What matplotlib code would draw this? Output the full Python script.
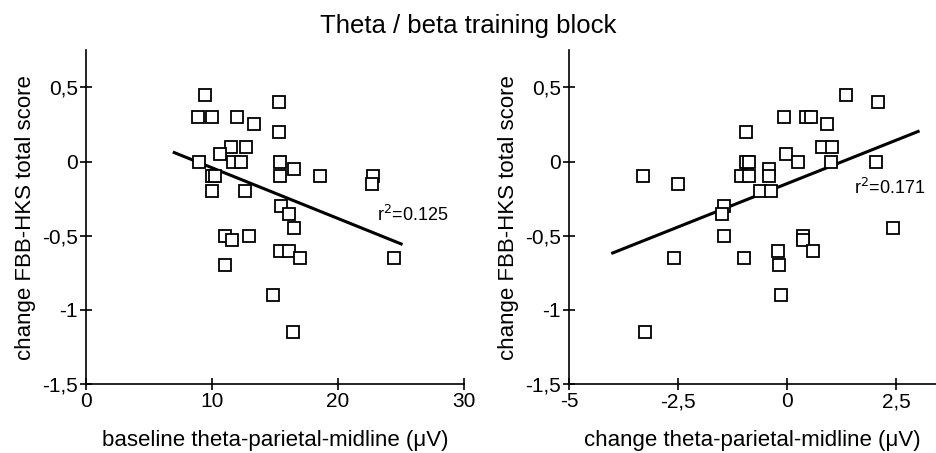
import numpy as np
import matplotlib.pyplot as plt
from matplotlib.ticker import FuncFormatter

plt.rcParams['font.family'] = ['Liberation Sans', 'DejaVu Sans']

# baseline theta (parietal midline) vs change in FBB-HKS score
base_x = [9.4, 8.9, 10.0, 12.0, 13.3, 15.3, 15.3, 11.5, 12.7, 10.6,
          9.0, 11.7, 12.3, 15.4, 16.5, 10.0, 10.2, 15.4, 18.6, 22.8,
          22.7, 10.0, 12.6, 15.5, 16.1, 16.5, 11.0, 11.6, 12.9, 15.4,
          16.1, 17.0, 24.4, 11.0, 14.8, 16.4]
base_y = [0.45, 0.3, 0.3, 0.3, 0.25, 0.4, 0.2, 0.1, 0.1, 0.05,
          0.0, 0.0, 0.0, 0.0, -0.05, -0.1, -0.1, -0.1, -0.1, -0.1,
          -0.15, -0.2, -0.2, -0.3, -0.35, -0.45, -0.5, -0.53, -0.5, -0.6,
          -0.6, -0.65, -0.65, -0.7, -0.9, -1.15]

# change in theta vs change in FBB-HKS score
chg_x = [-3.3, -2.5, -3.25, -2.6, -1.45, -1.5, -1.45, -0.98, -0.94, -0.94,
         -0.88, -1.06, -0.87, -0.62, -0.37, -0.42, -0.42, -0.22, -0.19, -0.15,
         -0.08, -0.02, 0.25, 0.36, 0.36, 0.59, 0.44, 0.55, 0.91, 0.8,
         1.03, 1.01, 1.35, 2.07, 2.04, 2.42]
chg_y = [-0.1, -0.15, -1.15, -0.65, -0.3, -0.35, -0.5, -0.65, 0.2, 0.0,
         0.0, -0.1, -0.1, -0.2, -0.2, -0.05, -0.1, -0.6, -0.7, -0.9,
         0.3, 0.05, 0.0, -0.5, -0.53, -0.6, 0.3, 0.3, 0.25, 0.1,
         0.1, 0.0, 0.45, 0.4, 0.0, -0.45]

# regression lines: (x start, x end, slope, intercept)
base_fit = (7.0, 25.0, -0.0342, 0.300)
chg_fit = (-4.0, 3.0, 0.117, -0.148)
base_r2 = "r$^2$=0.125"
chg_r2 = "r$^2$=0.171"

yticks = [-1.5, -1, -0.5, 0, 0.5]


def comma(v, pos):
    s = ('%g' % v).replace('.', ',')
    return s


def panel(ax, x, y, fit, r2, r2_pos, xlim, xticks, xlabel):
    ax.plot(x, y, 's', ms=9, mfc='white', mec='black', mew=1.3, zorder=3)
    x0, x1, k, b = fit
    fx = np.array([x0, x1])
    ax.plot(fx, k * fx + b, color='black', lw=2.2, zorder=2)
    ax.text(r2_pos[0], r2_pos[1], r2, fontsize=13, va='center', ha='left')
    ax.set_xlim(*xlim)
    ax.set_ylim(-1.5, 0.75)
    ax.set_xticks(xticks)
    ax.set_yticks(yticks)
    ax.xaxis.set_major_formatter(FuncFormatter(comma))
    ax.yaxis.set_major_formatter(FuncFormatter(comma))
    for s in ['top', 'right']:
        ax.spines[s].set_visible(False)
    for s in ['left', 'bottom']:
        ax.spines[s].set_linewidth(1.2)
    ax.tick_params(direction='inout', length=8, width=1.2, labelsize=15,
                   pad=2)
    ax.set_xlabel(xlabel, fontsize=16, labelpad=13)
    ax.set_ylabel('change FBB-HKS total score', fontsize=16, labelpad=4)


fig = plt.figure(figsize=(9.36, 4.53), dpi=100)
ax1 = fig.add_axes([0.0919, 0.152, 0.404, 0.737])
ax2 = fig.add_axes([0.608, 0.152, 0.392, 0.737])

panel(ax1, base_x, base_y, base_fit, base_r2, (23.1, -0.36),
      (0, 30), [0, 10, 20, 30], 'baseline theta-parietal-midline (\u03bcV)')
panel(ax2, chg_x, chg_y, chg_fit, chg_r2, (1.54, -0.18),
      (-5, 3.41), [-5, -2.5, 0, 2.5], 'change theta-parietal-midline (\u03bcV)')

fig.suptitle('Theta / beta training block', fontsize=18.5, y=0.97)

fig.savefig('out.png', dpi=100)
